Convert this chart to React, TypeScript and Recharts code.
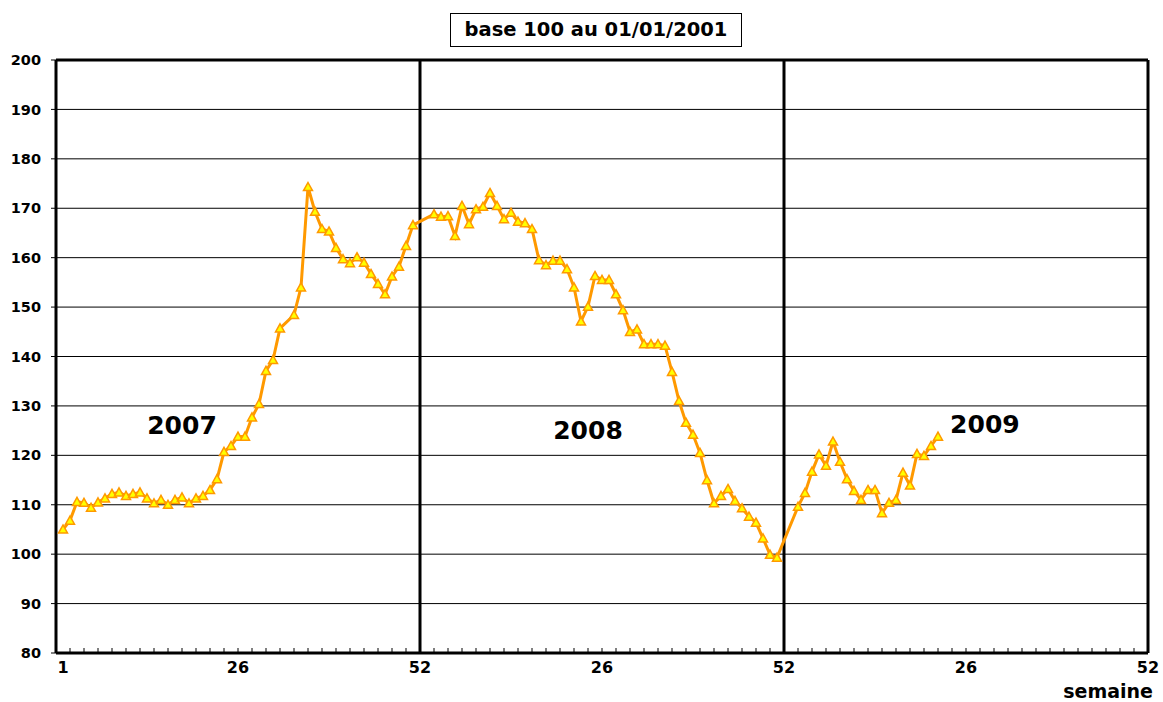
import React from "react";
import {
  LineChart,
  Line,
  XAxis,
  YAxis,
  CartesianGrid,
  ReferenceLine,
  ReferenceDot,
} from "recharts";

// Indice hebdomadaire, base 100 au 01/01/2001 (null = semaine sans point)
const values2007 = [
  105.0, 106.8, 110.6, 110.4, 109.4, 110.5, 111.3, 112.2, 112.5, 111.8,
  112.2, 112.5, 111.3, 110.3, 111.0, 110.0, 111.0, 111.5, 110.3, 111.3,
  111.8, 113.0, 115.2, 120.7, 121.9, 123.8, 123.8, 127.7, 130.4, 137.1,
  139.3, 145.7, null, 148.4, 154.0, 174.3, 169.3, 165.8, 165.3, 162.0,
  159.7, 158.9, 160.1, 159.0, 156.7, 154.7, 152.6, 156.2, 158.2, 162.4,
  166.6, null,
];
const values2008 = [
  null, 168.8, 168.3, 168.4, 164.4, 170.5, 166.8, 169.8, 170.3, 173.1,
  170.5, 167.8, 169.1, 167.3, 167.0, 165.8, 159.5, 158.5, 159.4, 159.4,
  157.7, 154.0, 147.1, 150.1, 156.3, 155.5, 155.5, 152.6, 149.4, 145.0,
  145.5, 142.5, 142.5, 142.5, 142.2, 136.9, 131.0, 126.6, 124.2, 120.5,
  115.0, 110.3, 111.8, 113.2, 110.8, 109.3, 107.6, 106.4, 103.2, 99.9,
  99.3, null,
];
const values2009 = [
  null, 109.6, 112.4, 116.7, 120.2, 117.9, 122.8, 118.7, 115.2, 112.8,
  111.0, 113.0, 113.0, 108.3, 110.4, 111.0, 116.5, 113.9, 120.3, 119.9,
  121.9, 123.8,
];

const yearLabels = [
  { label: "2007", week: 18, value: 126.1 },
  { label: "2008", week: 76, value: 125.1 },
  { label: "2009", week: 132.7, value: 126.3 },
];
const yearEnds = [52, 104];
const labelWeeks = [1, 26, 52, 78, 104, 130, 156];
const minorWeeks = Array.from({ length: 79 }, (_, i) => i * 2);
const yTicks = [80, 90, 100, 110, 120, 130, 140, 150, 160, 170, 180, 190, 200];

const data = [...values2007, ...values2008, ...values2009].map((v, i) => ({
  week: i + 1,
  value: v,
}));

const FONT = "'DejaVu Sans', Verdana, sans-serif";
const ORANGE = "#FF9900";

const xTicks = Array.from(new Set([...minorWeeks, ...labelWeeks])).sort(
  (a, b) => a - b
);

function weekLabel(v: number) {
  return String(((v - 1) % 52) + 1);
}

function XTick(props: any) {
  const { x, y, payload } = props;
  const axisY = y - 8;
  const isLabel = labelWeeks.includes(payload.value);
  const isMinor = minorWeeks.includes(payload.value);
  return (
    <g>
      {isMinor && (
        <line x1={x} x2={x} y1={axisY} y2={axisY - 5} stroke="#000" strokeWidth={1} />
      )}
      {isLabel && (
        <text
          x={x}
          y={y}
          dy={12}
          textAnchor="middle"
          fontFamily={FONT}
          fontWeight="bold"
          fontSize={16}
          fill="#000"
        >
          {weekLabel(payload.value)}
        </text>
      )}
    </g>
  );
}

function Triangle(props: any) {
  const { cx, cy, index } = props;
  if (cx == null || cy == null || props.value == null) return <g key={index} />;
  const s = 4.5;
  return (
    <polygon
      key={index}
      points={`${cx},${cy - s} ${cx + s},${cy + s * 0.8} ${cx - s},${cy + s * 0.8}`}
      fill="#FFFF00"
      stroke={ORANGE}
      strokeWidth={1.5}
    />
  );
}

export default function App() {
  return (
    <div
      style={{
        position: "absolute",
        left: 0,
        top: 0,
        width: 1163,
        height: 702,
        background: "#fff",
        fontFamily: FONT,
      }}
    >
      <div
        style={{
          position: "absolute",
          left: 450,
          top: 13,
          width: 290,
          height: 32,
          border: "1px solid #000",
          textAlign: "center",
          lineHeight: "32px",
          fontWeight: "bold",
          fontSize: 19.5,
        }}
      >
        base 100 au 01/01/2001
      </div>
      <div
        style={{
          position: "absolute",
          right: 10,
          top: 680,
          fontWeight: "bold",
          fontSize: 19,
        }}
      >
        semaine
      </div>
      <LineChart
        width={1163}
        height={702}
        data={data}
        margin={{ top: 60, right: 15, bottom: 0, left: 0 }}
      >
        <CartesianGrid vertical={false} stroke="#000" strokeWidth={1} />
        <XAxis
          dataKey="week"
          type="number"
          domain={[0, 156]}
          ticks={xTicks}
          interval={0}
          tick={<XTick />}
          tickLine={false}
          tickSize={0}
          tickMargin={8}
          height={49}
          axisLine={{ stroke: "#000", strokeWidth: 3 }}
        />
        <YAxis
          type="number"
          domain={[80, 200]}
          ticks={yTicks}
          interval={0}
          width={56}
          tickSize={5}
          tickMargin={10}
          tickLine={{ stroke: "#000" }}
          axisLine={{ stroke: "#000", strokeWidth: 3 }}
          tick={{ fontFamily: FONT, fontWeight: "bold", fontSize: 14.5, fill: "#000" }}
        />
        <ReferenceLine y={200} stroke="#000" strokeWidth={3} />
        <ReferenceLine x={156} stroke="#000" strokeWidth={3} />
        {yearEnds.map((w) => (
          <ReferenceLine key={w} x={w} stroke="#000" strokeWidth={3} />
        ))}
        <Line
          type="linear"
          dataKey="value"
          stroke={ORANGE}
          strokeWidth={3}
          connectNulls
          dot={(p: any) => <Triangle {...p} />}
          activeDot={false}
          isAnimationActive={false}
        />
        {yearLabels.map((d) => (
          <ReferenceDot
            key={d.label}
            x={d.week}
            y={d.value}
            r={0}
            fill="none"
            stroke="none"
            label={{
              value: d.label,
              position: "center",
              fontFamily: FONT,
              fontWeight: "bold",
              fontSize: 25,
              fill: "#000",
            }}
          />
        ))}
      </LineChart>
    </div>
  );
}
